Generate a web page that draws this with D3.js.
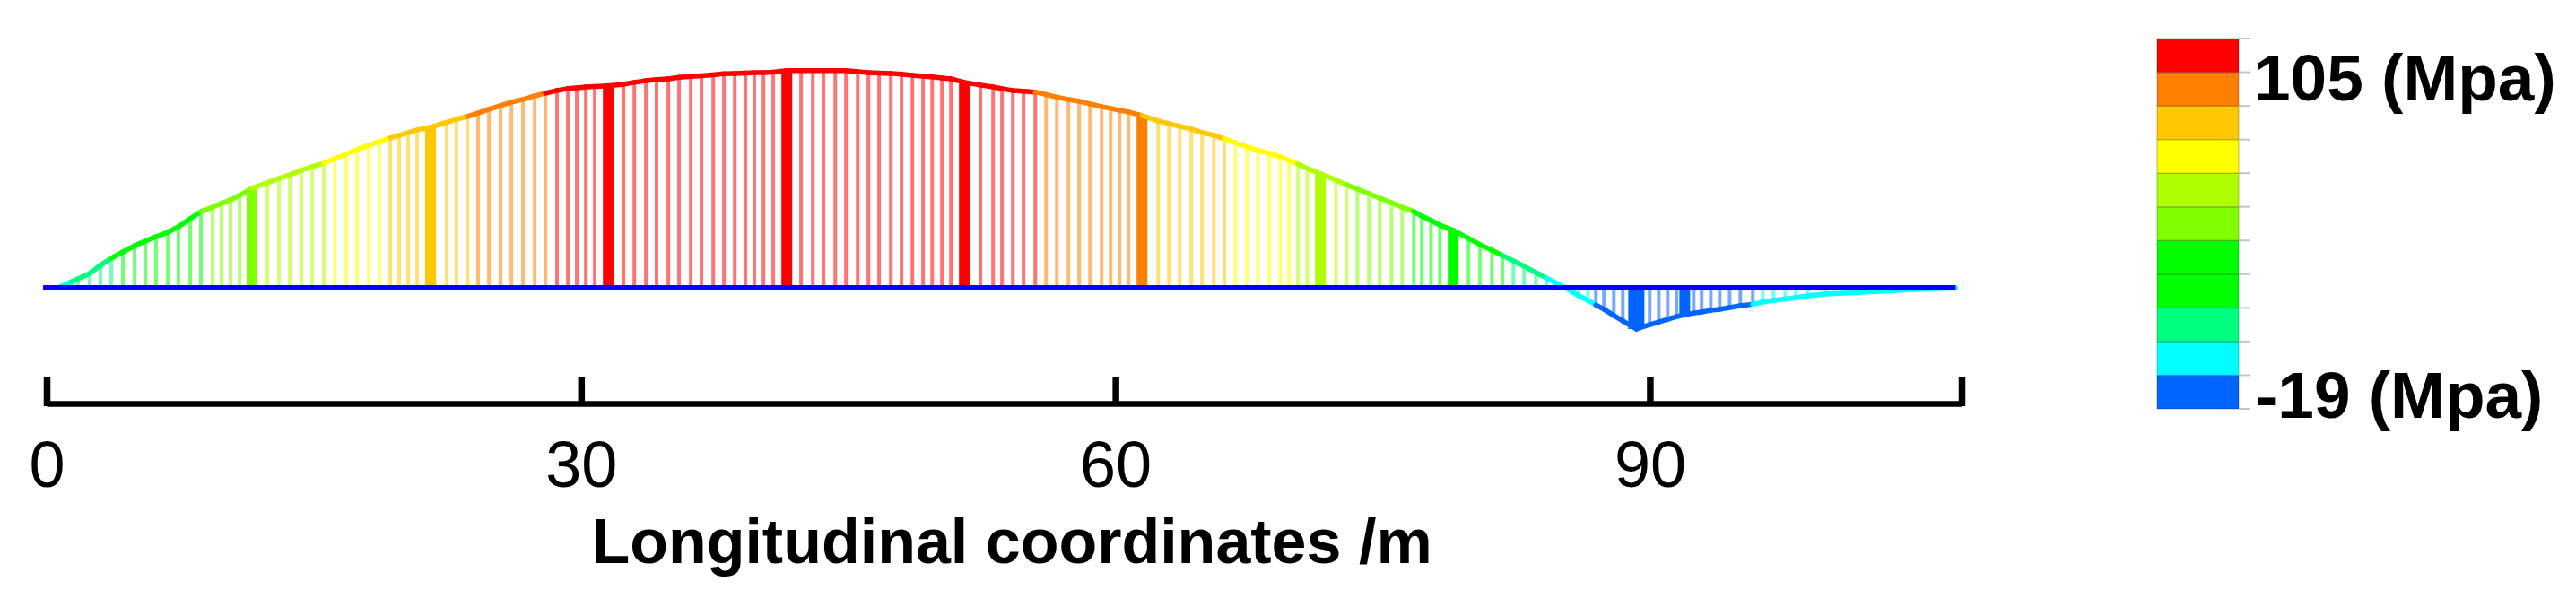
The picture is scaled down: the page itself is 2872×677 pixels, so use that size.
<!DOCTYPE html>
<html><head><meta charset="utf-8">
<script src="https://cdnjs.cloudflare.com/ajax/libs/d3/7.8.5/d3.min.js"></script>
<style>
html,body{margin:0;padding:0;background:#fff}
svg{display:block}
text{font-family:"Liberation Sans",Arial,sans-serif;fill:#000}
</style></head><body>
<svg id="c" width="2872" height="677"></svg>
<script>
// longitudinal position of every station (m)
const stations = [
 0.65,1.41,1.76,2.42,3.02,3.63,4.28,4.94,5.54,6.14,
 6.80,7.40,8.06,8.66,9.32,9.82,10.32,10.83,11.53,12.39,
 13.04,13.65,14.30,14.91,15.56,16.17,16.82,17.42,18.08,18.68,
 19.29,19.79,20.30,20.80,21.55,22.46,23.01,23.62,24.22,24.83,
 25.48,26.09,26.74,27.40,28.00,28.65,29.26,29.76,30.27,30.77,
 31.53,32.38,32.99,33.64,34.24,34.90,35.50,36.16,36.76,37.42,
 38.02,38.63,39.23,39.73,40.24,40.79,41.55,42.35,43.01,43.61,
 44.27,44.87,45.53,46.13,46.73,47.39,47.99,48.60,49.20,49.71,
 50.26,50.76,51.52,52.42,53.13,53.63,54.24,54.84,55.50,56.10,
 56.71,57.36,57.96,58.57,59.22,59.73,60.23,60.73,61.49,62.40,
 63.00,63.61,64.26,64.86,65.52,66.12,66.73,67.38,67.99,68.64,
 69.25,69.75,70.25,70.76,71.51,72.37,72.97,73.58,74.23,74.83,
 75.49,76.09,76.75,77.20,77.71,78.21,78.96,79.82,80.47,81.13,
 81.73,82.34,82.94,83.60,84.20,84.86,85.26,86.02,86.52,86.97,
 87.42,87.98,88.48,89.24,89.99,90.50,91.00,91.50,91.96,92.46,
 92.91,93.42,93.92,94.48,95.08,95.78,96.34,96.94,97.60,98.20,
 98.86,99.86,104.80,107.17];
// stress at each station (MPa)
const stress = [
 0,3.0,4.3,6.9,10.8,14.2,17.2,20.2,22.4,24.5,
 26.7,29.3,33.1,36.6,38.7,40.5,42.2,44.3,47.8,50.4,
 52.5,54.2,56.4,58.1,59.8,62.0,64.1,66.3,68.4,70.2,
 71.9,73.2,74.5,75.8,77.1,79.4,80.9,82.2,83.9,85.7,
 87.4,89.1,90.4,92.1,93.4,94.7,95.6,96.0,96.4,96.6,
 96.9,97.7,98.6,99.4,99.9,100.3,101.0,101.4,101.8,102.2,
 102.7,102.9,103.1,103.3,103.3,103.5,104.2,104.2,104.2,104.2,
 104.2,104.2,103.7,103.3,103.1,102.9,102.5,102.0,101.6,101.2,
 100.7,100.3,98.6,97.3,96.4,95.6,94.7,94.3,93.9,92.8,
 91.5,90.4,89.5,88.3,87.0,86.1,85.2,84.4,82.7,80.1,
 78.8,77.5,76.2,74.5,73.2,71.5,69.7,67.6,65.9,64.6,
 62.9,61.1,59.4,57.3,54.7,51.7,49.5,47.4,45.2,43.1,
 40.9,38.7,36.6,34.4,32.3,30.1,27.6,23.7,20.7,18.1,
 15.5,12.9,10.3,7.3,4.7,1.7,0,-3.9,-6.0,-8.2,
 -10.3,-13.3,-15.9,-19.8,-17.7,-16.4,-15.1,-13.8,-12.9,-12.1,
 -11.6,-10.8,-10.3,-9.5,-8.6,-7.9,-6.9,-6.0,-5.4,-4.7,
 -3.9,-3.0,-0.9,0];
const heavyStations = [11.53,21.55,31.53,41.55,51.52,61.49,71.51,78.96,91.96];
const widestStations = [89.24];
const xTicks = [0,30,60,90,107.5];
const xTickLabels = ["0","30","60","90",""];
const xTitle = "Longitudinal coordinates /m";
const bandColors = ["#0064ff","#00ffff","#00ff80","#00ff00","#00ff00","#80ff00","#b0ff00","#ffff00","#ffc800","#ff8000","#ff0000"];
const stressMin = -19, stressMax = 105;
const legendLabels = ["105 (Mpa)","-19 (Mpa)"];

const svg = d3.select("#c");
const x = d3.scaleLinear().domain([0,107.5]).range([52,2187]);
const y = d3.scaleLinear().domain([0,105]).range([321,77]);
const color = d3.scaleQuantize().domain([stressMin,stressMax]).range(bandColors);
const pts = stations.map((s,i)=>({s,v:stress[i]}));
const heavy = new Set(heavyStations), widest = new Set(widestStations);
const barW = d => widest.has(d.s)?18:heavy.has(d.s)?12:4;

// stations as vertical bars
svg.append("g").selectAll("rect").data(pts).join("rect")
  .attr("x",d=>x(d.s)-barW(d)/2).attr("width",barW)
  .attr("y",d=>Math.min(y(d.v),y(0))).attr("height",d=>Math.abs(y(d.v)-y(0)))
  .attr("fill",d=>color(d.v))
  .attr("opacity",d=>barW(d)>4?1:0.55);

// envelope, one coloured piece per station interval
const line = d3.line().x(d=>x(d.s)).y(d=>y(d.v));
svg.append("g").attr("fill","none").attr("stroke-width",5.5).attr("stroke-linecap","round")
  .selectAll("path").data(d3.pairs(pts)).join("path")
  .attr("d",d=>line(d))
  .attr("stroke",d=>color((d[0].v+d[1].v)/2));

// zero line
svg.append("path").attr("d",line([{s:-0.2,v:0},{s:107.17,v:0}]))
  .attr("stroke","#0000ff").attr("stroke-width",6).attr("fill","none");

// axis
const axis = d3.axisBottom(x).tickValues(xTicks)
  .tickFormat((d,i)=>xTickLabels[i]).tickSizeInner(-30).tickSizeOuter(0).tickPadding(42);
const ag = svg.append("g").attr("transform","translate(0,450)").call(axis);
ag.select(".domain").attr("stroke","#000").attr("stroke-width",6.5);
ag.selectAll(".tick line").attr("stroke","#000").attr("stroke-width",7.5).attr("y1",3);
ag.selectAll(".tick text").attr("font-size",72).attr("font-family","Liberation Sans").attr("fill","#000");
svg.append("text").attr("x",1128).attr("y",628).attr("text-anchor","middle")
  .attr("font-size",70).attr("font-weight","bold").text(xTitle);

// legend
const ly = d3.scaleLinear().domain([11,0]).range([43,456]);
const lg = svg.append("g");
lg.selectAll("rect").data(bandColors).join("rect")
  .attr("x",2405).attr("width",91)
  .attr("y",(d,i)=>ly(i+1)).attr("height",(d,i)=>ly(i)-ly(i+1))
  .attr("fill",d=>d).attr("stroke","#000").attr("stroke-opacity",0.18).attr("stroke-width",1.5);
lg.selectAll("line").data(d3.range(12)).join("line")
  .attr("x1",2496).attr("x2",2508).attr("y1",d=>ly(d)).attr("y2",d=>ly(d))
  .attr("stroke","#c4c4c4").attr("stroke-width",2);
svg.selectAll(".ll").data(legendLabels).join("text").attr("class","ll")
  .attr("x",(d,i)=>i?2515:2513).attr("y",(d,i)=>i?466:112)
  .attr("font-size",73).attr("font-weight","bold").text(d=>d);
</script>
</body></html>
